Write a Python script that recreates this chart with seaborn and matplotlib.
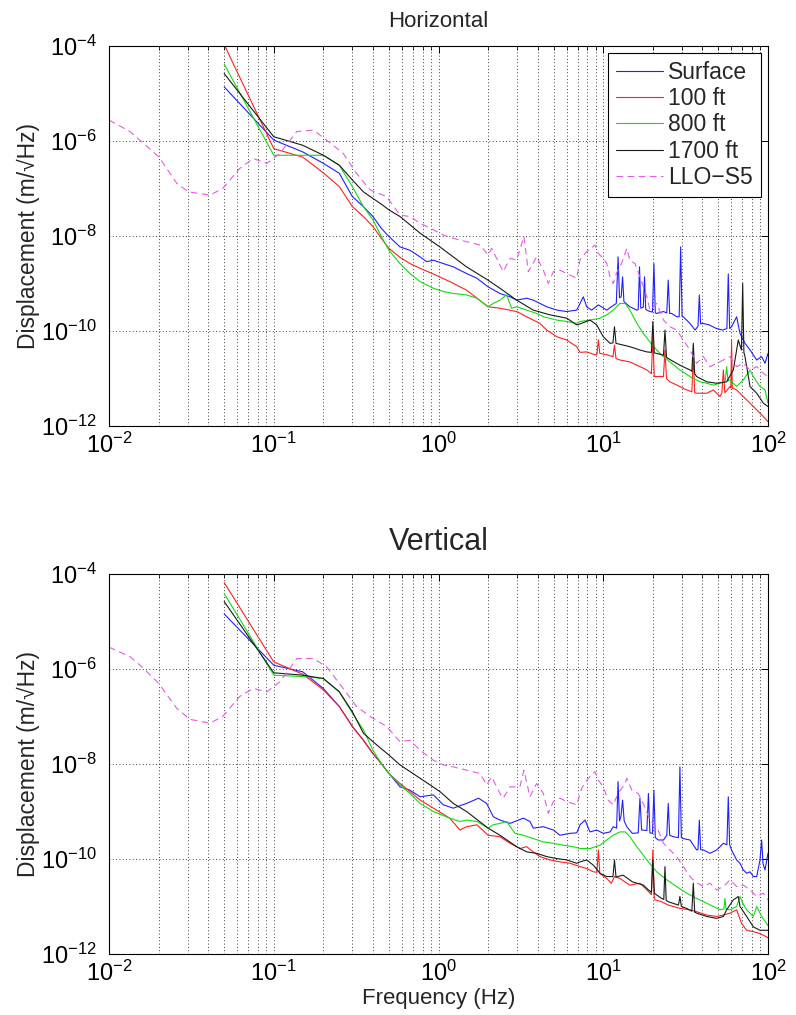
import numpy as np
import pandas as pd
import matplotlib
matplotlib.use("Agg")
import matplotlib.pyplot as plt
import matplotlib.ticker as mticker
import seaborn as sns

# Spectres : frequences (Hz) et exposants log10 du deplacement (m/sqrt(Hz))

# ---- Horizontal ----
H_SURF_F = [0.05, 0.1, 0.15, 0.2, 0.25, 0.3, 0.35, 0.4, 0.45, 0.5,
            0.584, 0.671, 0.773, 0.848, 0.931, 1.07, 1.23, 1.48, 1.71, 2.0,
            2.36, 2.72, 2.98, 3.43, 3.76, 4.13, 4.54, 5.22, 6.0, 6.9,
            7.23, 7.57, 7.93, 8.51, 9.34, 10.5, 11.2, 12.0, 12.3, 12.55,
            12.85, 13.1, 13.35, 14.5, 16.0, 16.3, 16.6, 16.9, 17.5, 17.8,
            18.1, 18.4, 19.2, 19.9, 20.3, 20.7, 21.1, 23.2, 24.3, 24.8,
            25.3, 26.0, 27.9, 28.9, 29.5, 30.1, 30.6, 33.6, 36.1, 37.6,
            38.3, 39.0, 40.2, 43.9, 48.1, 52.8, 56.3, 57.4, 58.5, 60.1,
            64.5, 67.6, 72.5, 77.8, 85.4, 91.5, 95.9, 100]
H_SURF_E = [-4.86, -5.98, -6.23, -6.47, -6.68, -7.17, -7.38, -7.59, -7.84, -8.01,
            -8.23, -8.30, -8.44, -8.54, -8.51, -8.58, -8.65, -8.79, -8.89, -9.07,
            -9.21, -9.28, -9.35, -9.31, -9.35, -9.42, -9.49, -9.56, -9.59, -9.56,
            -9.42, -9.28, -9.49, -9.56, -9.45, -9.56, -9.49, -9.42, -8.44, -9.30,
            -9.28, -8.86, -9.38, -9.49, -9.56, -9.55, -8.65, -9.52, -9.50, -8.86,
            -9.54, -9.56, -9.59, -9.60, -8.58, -9.62, -9.63, -9.59, -9.62, -8.93,
            -9.63, -9.63, -9.70, -9.70, -8.23, -9.70, -9.70, -9.84, -9.98, -9.90,
            -9.24, -9.85, -9.84, -9.87, -9.94, -9.98, -9.95, -8.80, -9.95, -9.91,
            -9.70, -10.05, -10.26, -10.40, -10.61, -10.54, -10.68, -10.47]

H_100_F = [0.05, 0.1, 0.15, 0.2, 0.25, 0.3, 0.35, 0.4, 0.45, 0.5,
           0.584, 0.671, 0.773, 0.931, 1.17, 1.48, 2.0, 2.36, 2.98, 3.43,
           3.76, 4.13, 4.54, 5.22, 6.0, 6.9, 7.23, 7.93, 8.91, 9.15,
           9.34, 9.53, 10.5, 11.45, 11.7, 11.95, 12.6, 14.5, 16.7, 18.4,
           19.6, 20.0, 20.4, 23.2, 23.7, 24.2, 25.4, 29.2, 32.1, 34.5,
           35.2, 35.9, 36.9, 42.5, 46.6, 51.1, 52.5, 53.6, 54.7, 58.8,
           59.5, 60.1, 60.7, 64.5, 70.8, 77.8, 85.4, 93.7, 100]
H_100_E = [-3.97, -6.16, -6.34, -6.67, -6.96, -7.38, -7.59, -7.80, -8.05, -8.26,
           -8.45, -8.58, -8.68, -8.80, -8.96, -9.14, -9.49, -9.52, -9.59, -9.70,
           -9.77, -9.84, -9.98, -10.12, -10.19, -10.33, -10.45, -10.44, -10.50, -10.50,
           -10.19, -10.47, -10.50, -10.54, -10.30, -10.58, -10.61, -10.65, -10.75, -10.82,
           -10.90, -10.10, -10.96, -10.96, -10.40, -11.00, -11.07, -11.17, -11.24, -11.28,
           -10.50, -11.30, -11.31, -11.31, -11.24, -11.38, -11.30, -10.82, -11.30, -11.17,
           -11.20, -10.20, -11.20, -11.24, -11.38, -11.52, -11.66, -11.80, -11.91]

H_800_F = [0.05, 0.1, 0.15, 0.2, 0.25, 0.3, 0.35, 0.4, 0.45, 0.5,
           0.584, 0.671, 0.773, 0.931, 1.07, 1.23, 1.48, 1.71, 2.0, 2.15,
           2.36, 2.59, 2.78, 2.98, 3.43, 3.94, 4.33, 5.22, 6.0, 6.9,
           7.23, 8.31, 9.55, 10.5, 11.5, 12.6, 13.6, 14.5, 16.0, 17.5,
           19.2, 21.1, 23.2, 25.4, 29.2, 33.6, 38.7, 42.5, 46.6, 51.1,
           55.0, 56.1, 57.2, 58.8, 64.5, 70.8, 77.8, 81.5, 89.4, 95.9, 100]
H_800_E = [-4.38, -6.30, -6.30, -6.30, -6.51, -6.96, -7.38, -7.66, -8.01, -8.30,
           -8.58, -8.79, -8.96, -9.10, -9.17, -9.21, -9.24, -9.31, -9.49, -9.42,
           -9.35, -9.24, -9.52, -9.49, -9.56, -9.63, -9.70, -9.77, -9.80, -9.84,
           -9.80, -9.77, -9.73, -9.66, -9.56, -9.42, -9.42, -9.56, -9.84, -10.05,
           -10.23, -10.40, -10.54, -10.65, -10.82, -10.96, -11.07, -11.10, -11.14, -11.10,
           -11.05, -10.75, -11.05, -11.03, -11.17, -11.03, -10.82, -10.96, -11.17, -11.24, -11.52]

H_1700_F = [0.05, 0.1, 0.15, 0.2, 0.25, 0.3, 0.35, 0.4, 0.45, 0.5,
            0.584, 0.773, 1.02, 1.48, 2.0, 2.36, 2.98, 3.76, 4.75, 6.0,
            6.9, 7.23, 8.31, 9.12, 10.0, 11.0, 11.45, 11.7, 11.95, 14.5,
            16.7, 18.4, 19.6, 20.0, 20.4, 23.2, 23.7, 24.2, 24.8, 29.2,
            33.6, 34.5, 35.2, 35.9, 36.9, 42.5, 48.8, 56.1, 61.6, 66.0,
            69.0, 70.2, 71.4, 72.5, 77.8, 85.4, 93.7, 100]
H_1700_E = [-4.58, -5.91, -6.09, -6.30, -6.51, -6.82, -7.07, -7.21, -7.33, -7.45,
            -7.59, -7.94, -8.23, -8.65, -8.93, -9.10, -9.35, -9.56, -9.66, -9.73,
            -9.87, -9.85, -9.77, -9.87, -10.12, -10.26, -10.25, -9.91, -10.26, -10.33,
            -10.40, -10.44, -10.45, -9.80, -10.46, -10.51, -9.98, -10.55, -10.58, -10.72,
            -10.82, -10.85, -10.26, -10.90, -10.96, -11.07, -11.10, -11.07, -10.82, -10.19,
            -10.40, -9.00, -10.45, -10.54, -11.17, -11.31, -11.52, -11.59]

H_LLO_F = [0.01, 0.0134, 0.02, 0.0258, 0.0303, 0.041, 0.049, 0.062, 0.075, 0.091,
           0.109, 0.138, 0.174, 0.209, 0.264, 0.318, 0.384, 0.484, 0.584, 0.671,
           0.773, 0.931, 1.07, 1.23, 1.48, 1.79, 2.0, 2.10, 2.36, 2.47,
           2.72, 2.98, 3.30, 3.51, 3.94, 4.33, 4.64, 4.98, 5.46, 6.0,
           6.9, 7.23, 7.93, 8.91, 9.34, 10.0, 10.5, 11.0, 11.5, 12.0,
           12.9, 13.9, 14.5, 15.6, 16.7, 18.4, 19.2, 21.1, 23.2, 25.4,
           27.9, 30.6, 33.6, 36.9, 40.5, 44.5, 48.8, 53.6, 58.8, 64.5,
           70.8, 77.8, 85.4, 93.7, 100]
H_LLO_E = [-5.56, -5.80, -6.33, -6.89, -7.07, -7.14, -7.00, -6.58, -6.37, -6.47,
           -6.26, -5.80, -5.77, -5.98, -6.26, -6.68, -7.03, -7.17, -7.56, -7.59,
           -7.73, -7.87, -7.98, -8.05, -8.12, -8.19, -8.40, -8.26, -8.61, -8.75,
           -8.47, -8.51, -8.01, -8.75, -8.44, -8.72, -9.00, -8.75, -8.72, -8.79,
           -8.89, -8.50, -8.33, -8.19, -8.37, -8.47, -8.58, -8.86, -9.00, -8.79,
           -8.58, -8.26, -8.51, -8.58, -8.86, -9.28, -9.56, -9.42, -9.77, -9.91,
           -9.98, -10.19, -10.40, -10.68, -10.54, -10.75, -10.68, -10.61, -10.54, -10.75,
           -10.68, -10.82, -10.75, -10.89, -10.96]

# ---- Vertical ----
V_SURF_F = [0.05, 0.1, 0.15, 0.2, 0.25, 0.3, 0.35, 0.4, 0.45, 0.5,
            0.584, 0.671, 0.773, 0.931, 1.07, 1.23, 1.48, 1.75, 1.96, 2.15,
            2.36, 2.72, 3.27, 3.59, 3.76, 4.33, 4.98, 5.46, 6.28, 6.9,
            7.23, 7.75, 8.31, 9.12, 10.0, 11.0, 11.5, 12.05, 12.3, 12.55,
            12.8, 13.1, 13.4, 13.9, 15.0, 16.3, 16.7, 17.1, 18.4, 18.8,
            19.2, 19.9, 20.3, 20.7, 21.6, 23.2, 24.3, 24.8, 25.3, 26.6,
            28.6, 29.2, 29.8, 30.6, 33.6, 36.9, 37.6, 38.3, 39.0, 40.5,
            44.5, 48.8, 53.6, 56.3, 57.4, 58.5, 60.1, 64.5, 67.6, 70.8,
            74.2, 77.8, 81.5, 85.4, 89.4, 91.5, 93.3, 95.9, 100]
V_SURF_E = [-4.84, -5.92, -6.06, -6.41, -6.79, -7.21, -7.50, -7.78, -7.99, -8.20,
            -8.48, -8.55, -8.69, -8.65, -8.86, -8.93, -8.83, -8.72, -8.83, -9.11,
            -9.18, -9.25, -9.14, -9.21, -9.35, -9.32, -9.39, -9.50, -9.46, -9.45,
            -9.28, -9.18, -9.43, -9.39, -9.46, -9.43, -9.32, -9.35, -8.37, -9.20,
            -9.11, -8.76, -9.20, -9.32, -9.46, -9.45, -8.72, -9.39, -9.40, -8.62,
            -9.45, -9.46, -8.55, -9.55, -9.60, -9.60, -9.50, -8.83, -9.50, -9.53,
            -9.55, -8.06, -9.55, -9.57, -9.60, -9.81, -9.80, -9.18, -9.80, -9.81,
            -9.88, -9.81, -9.67, -9.70, -8.69, -9.70, -9.81, -10.02, -10.09, -10.23,
            -10.30, -10.27, -10.37, -10.37, -10.02, -9.60, -10.10, -10.23, -9.88]

V_100_F = [0.05, 0.1, 0.15, 0.2, 0.25, 0.3, 0.35, 0.4, 0.45, 0.5,
           0.584, 0.671, 0.773, 0.931, 1.17, 1.35, 1.48, 1.71, 2.0, 2.36,
           2.72, 3.12, 3.43, 3.76, 4.13, 4.75, 5.46, 6.28, 7.23, 7.93,
           8.71, 9.15, 9.34, 9.53, 10.5, 11.2, 11.7, 12.6, 14.5, 16.7,
           18.4, 19.6, 20.0, 20.4, 20.6, 22.6, 24.8, 29.2, 33.6, 36.9,
           42.5, 48.8, 53.6, 58.8, 64.5, 69.2, 74.2, 81.5, 89.4, 98.2, 100]
V_100_E = [-4.18, -5.85, -6.11, -6.44, -6.79, -7.21, -7.50, -7.78, -7.99, -8.20,
           -8.41, -8.58, -8.76, -8.93, -9.14, -9.39, -9.32, -9.28, -9.50, -9.53,
           -9.67, -9.78, -9.74, -9.85, -9.95, -10.02, -10.06, -10.09, -10.16, -10.20,
           -10.27, -10.28, -9.81, -10.30, -10.41, -10.51, -10.37, -10.41, -10.55, -10.51,
           -10.65, -10.75, -9.81, -10.80, -10.86, -10.90, -10.97, -11.04, -11.07, -11.11,
           -11.18, -11.21, -11.18, -11.14, -11.07, -11.36, -11.50, -11.53, -11.57, -11.64, -11.66]

V_800_F = [0.05, 0.1, 0.15, 0.2, 0.25, 0.3, 0.35, 0.4, 0.45, 0.5,
           0.584, 0.671, 0.773, 0.931, 1.17, 1.35, 1.48, 1.71, 2.0, 2.15,
           2.36, 2.59, 2.91, 3.27, 3.76, 4.33, 4.98, 5.72, 6.58, 7.23,
           8.31, 9.55, 10.5, 11.5, 12.6, 13.6, 14.5, 16.0, 18.4, 21.1,
           24.3, 27.9, 32.1, 36.9, 42.5, 46.6, 51.1, 54.0, 54.8, 55.6,
           58.8, 64.5, 67.6, 70.8, 74.2, 81.5, 85.4, 91.5, 98.2, 100]
V_800_E = [-4.41, -6.13, -6.16, -6.20, -6.48, -6.93, -7.28, -7.71, -7.99, -8.20,
           -8.44, -8.62, -8.83, -9.00, -9.14, -9.21, -9.18, -9.21, -9.35, -9.28,
           -9.25, -9.21, -9.46, -9.50, -9.57, -9.64, -9.67, -9.71, -9.74, -9.78,
           -9.78, -9.71, -9.60, -9.50, -9.43, -9.43, -9.53, -9.74, -10.02, -10.27,
           -10.44, -10.58, -10.72, -10.83, -10.93, -11.00, -11.07, -11.05, -10.83, -11.05,
           -11.07, -11.00, -10.79, -10.95, -11.07, -11.21, -11.00, -11.21, -11.36, -11.40]

V_1700_F = [0.05, 0.1, 0.15, 0.2, 0.25, 0.3, 0.35, 0.4, 0.45, 0.5,
            0.584, 0.773, 1.02, 1.23, 1.48, 2.0, 2.36, 2.98, 3.43, 3.94,
            4.54, 5.22, 6.0, 6.9, 7.23, 7.93, 8.71, 9.55, 10.5, 11.45,
            11.7, 11.95, 13.2, 15.0, 17.5, 18.8, 19.6, 20.0, 20.4, 22.6,
            23.3, 23.7, 24.1, 24.8, 28.6, 29.2, 29.8, 32.1, 34.5, 35.2,
            35.9, 36.9, 42.5, 48.8, 53.6, 56.1, 61.6, 66.0, 67.6, 74.2,
            81.5, 89.4, 98.2, 100]
V_1700_E = [-4.58, -6.08, -6.13, -6.20, -6.48, -6.90, -7.35, -7.53, -7.68, -7.81,
            -8.02, -8.30, -8.58, -8.83, -9.00, -9.35, -9.50, -9.74, -9.85, -9.88,
            -9.95, -9.99, -10.02, -10.09, -10.06, -10.02, -10.13, -10.30, -10.37, -10.37,
            -10.02, -10.38, -10.34, -10.48, -10.55, -10.65, -10.70, -10.02, -10.72, -10.83,
            -10.85, -10.16, -10.87, -10.90, -10.97, -10.79, -11.00, -11.04, -11.10, -10.51,
            -11.12, -11.14, -11.21, -11.25, -11.21, -11.07, -10.86, -10.79, -11.00, -11.21,
            -11.43, -11.50, -11.50, -11.50]

V_LLO_F = [0.01, 0.0134, 0.0158, 0.02, 0.0258, 0.031, 0.041, 0.049, 0.062, 0.075,
           0.091, 0.109, 0.138, 0.174, 0.209, 0.264, 0.318, 0.384, 0.484, 0.584,
           0.671, 0.773, 0.931, 1.07, 1.23, 1.48, 1.79, 1.96, 2.10, 2.36,
           2.47, 2.72, 3.12, 3.30, 3.59, 3.94, 4.33, 4.64, 4.98, 5.46,
           6.0, 6.9, 7.4, 8.12, 8.91, 9.34, 10.0, 10.7, 11.5, 12.3,
           13.6, 13.9, 14.9, 16.3, 17.5, 19.2, 21.1, 23.2, 25.4, 27.9,
           30.6, 33.6, 36.1, 40.5, 44.5, 48.8, 53.6, 58.8, 64.5, 70.8,
           77.8, 85.4, 93.7, 100]
V_LLO_E = [-5.54, -5.74, -5.95, -6.30, -6.83, -7.06, -7.14, -7.00, -6.58, -6.41,
           -6.48, -6.27, -5.78, -5.78, -5.95, -6.41, -6.79, -7.00, -7.21, -7.53,
           -7.50, -7.71, -7.92, -8.02, -8.06, -8.13, -8.20, -8.44, -8.27, -8.62,
           -8.72, -8.48, -8.48, -8.13, -8.69, -8.41, -8.62, -9.04, -8.79, -8.72,
           -8.79, -8.86, -8.51, -8.30, -8.16, -8.34, -8.48, -8.76, -8.86, -8.62,
           -8.41, -8.30, -8.55, -8.62, -8.83, -9.18, -9.32, -9.67, -9.81, -9.95,
           -10.16, -10.37, -10.48, -10.58, -10.51, -10.65, -10.58, -10.44, -10.58, -10.55,
           -10.65, -10.79, -10.72, -10.86]

NAMES = ['Surface', '100 ft', '800 ft', '1700 ft', 'LLO\u2212S5']
COLORS = {'Surface': '#1f1fff', '100 ft': '#ff1f1f', '800 ft': '#12dc12',
          '1700 ft': '#1a1a1a', 'LLO\u2212S5': '#e35ce3'}
DASHES = {'Surface': '', '100 ft': '', '800 ft': '', '1700 ft': '', 'LLO\u2212S5': (6, 4)}


def build(series):
    parts = []
    for name, (f, e) in zip(NAMES, series):
        parts.append(pd.DataFrame({'freq': f, 'disp': 10.0 ** np.array(e), 'sensor': name}))
    return pd.concat(parts, ignore_index=True)


df_h = build([(H_SURF_F, H_SURF_E), (H_100_F, H_100_E), (H_800_F, H_800_E),
              (H_1700_F, H_1700_E), (H_LLO_F, H_LLO_E)])
df_v = build([(V_SURF_F, V_SURF_E), (V_100_F, V_100_E), (V_800_F, V_800_E),
              (V_1700_F, V_1700_E), (V_LLO_F, V_LLO_E)])

sns.set_theme(style="white")
plt.rcParams['font.family'] = ['Liberation Sans', 'DejaVu Sans']
plt.rcParams['mathtext.fontset'] = 'custom'
plt.rcParams['mathtext.rm'] = 'Liberation Sans'
plt.rcParams['mathtext.it'] = 'Liberation Sans:italic'
plt.rcParams['mathtext.bf'] = 'Liberation Sans:bold'

fig = plt.figure(figsize=(7.96, 10.15), dpi=100)
fig.patch.set_facecolor('white')
ax_h = fig.add_axes([109 / 796, 1 - 426 / 1015, 659 / 796, 380 / 1015])
ax_v = fig.add_axes([109 / 796, 1 - 954 / 1015, 659 / 796, 380 / 1015])

for ax, df in [(ax_h, df_h), (ax_v, df_v)]:
    ax.set_xscale('log')
    ax.set_yscale('log')
    sns.lineplot(data=df, x='freq', y='disp', hue='sensor', style='sensor',
                 hue_order=NAMES, style_order=NAMES, palette=COLORS, dashes=DASHES,
                 estimator=None, sort=False, linewidth=0.8, legend=False, ax=ax)
    ax.set_xlim(1e-2, 1e2)
    ax.set_ylim(1e-12, 1e-4)
    ax.xaxis.set_major_locator(mticker.LogLocator(base=10, numticks=10))
    ax.xaxis.set_minor_locator(mticker.LogLocator(base=10, subs=np.arange(2, 10), numticks=100))
    ax.xaxis.set_minor_formatter(mticker.NullFormatter())
    ax.yaxis.set_major_locator(mticker.FixedLocator([1e-12, 1e-10, 1e-8, 1e-6, 1e-4]))
    ax.yaxis.set_major_formatter(mticker.LogFormatterSciNotation())
    ax.yaxis.set_minor_locator(mticker.NullLocator())
    ax.set_axisbelow(True)
    ax.grid(True, which='major', axis='both', color='black', linewidth=0.6, linestyle=(0, (1, 3)))
    ax.grid(True, which='minor', axis='x', color='black', linewidth=0.6, linestyle=(0, (1, 3)))
    ax.tick_params(which='both', direction='in', top=True, right=True, colors='black')
    ax.tick_params(which='major', length=5, width=0.7, labelsize=17)
    ax.tick_params(which='minor', length=3, width=0.6)
    ax.tick_params(axis='y', pad=9)
    ax.tick_params(axis='x', pad=5)
    for sp in ax.spines.values():
        sp.set_color('black')
        sp.set_linewidth(0.8)
    ax.set_xlabel('')
    ax.set_ylabel('Displacement (m/\u221aHz)', fontsize=16.5)
    ax.yaxis.set_label_coords(-0.105, 0.5)

ax_h.set_title('Horizontal', fontsize=16, pad=13.5)
ax_v.set_title('Vertical', fontsize=22, pad=17)
ax_v.set_xlabel('Frequency (Hz)', fontsize=16, labelpad=1)

leg = ax_h.legend(ax_h.lines[:5], NAMES, loc='upper right', fontsize=16.5, frameon=True,
                  fancybox=False, edgecolor='black', framealpha=1, borderaxespad=0.3,
                  handlelength=2.05, labelspacing=0.14, borderpad=0.35, handletextpad=0.25)
leg.get_frame().set_linewidth(0.8)

fig.savefig('out.png', dpi=100, facecolor='white')
